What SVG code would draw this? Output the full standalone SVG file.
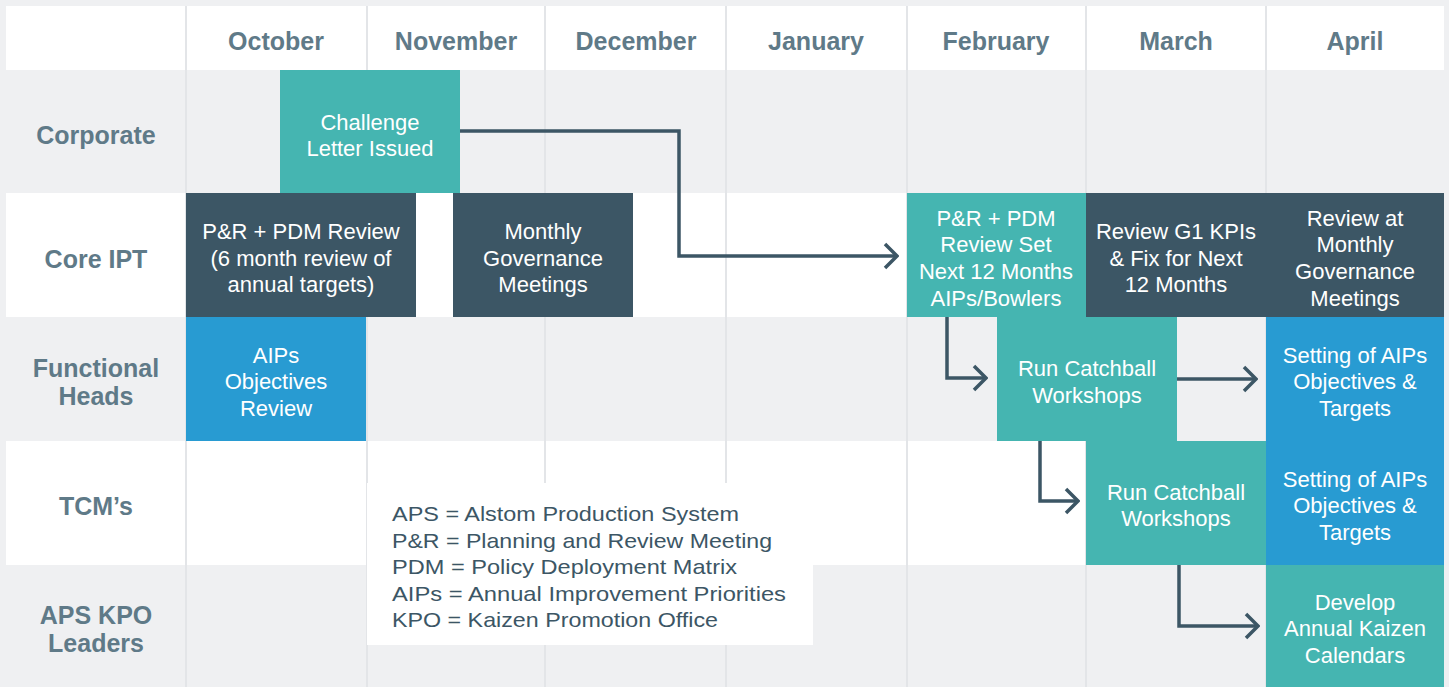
<svg xmlns="http://www.w3.org/2000/svg" width="1449" height="687" viewBox="0 0 1449 687">
<defs>
<style>
.bg{fill:#eff0f2}
.wh{fill:#ffffff}
.grid{stroke:#e3e5e8;stroke-width:2;fill:none}
.teal{fill:#45b5b1}
.dark{fill:#3c5665}
.blue{fill:#289bd2}
.bt{font-family:"Liberation Sans",Arial,sans-serif;font-size:22px;fill:#ffffff;text-anchor:middle}
.hd{font-family:"Liberation Sans",Arial,sans-serif;font-size:25px;font-weight:700;fill:#5f7a88;text-anchor:middle}
.lg{font-family:"Liberation Sans",Arial,sans-serif;font-size:21px;fill:#3c5665}
.con{fill:none;stroke:#3c5665;stroke-width:3.5}
</style>
<marker id="arr" viewBox="0 0 16 28" refX="14" refY="14" markerWidth="16" markerHeight="28" markerUnits="userSpaceOnUse" orient="auto">
<path d="M2,2 L14,14 L2,26" fill="none" stroke="#3c5665" stroke-width="3.5"/>
</marker>
</defs>

<g id="background">
<rect class="bg" x="0" y="0" width="1449" height="687"/>
<rect class="wh" x="6" y="6" width="1438" height="64"/>
<rect class="wh" x="6" y="193" width="1438" height="124"/>
<rect class="wh" x="6" y="441" width="1438" height="124"/>
<path class="grid" d="M186,6V687M367,6V687M545,6V687M726,6V687M907,6V687M1086,6V687M1266,6V687"/>
</g>

<g id="header">
<text class="hd" x="276" y="50">October</text>
<text class="hd" x="456" y="50">November</text>
<text class="hd" x="636" y="50">December</text>
<text class="hd" x="816" y="50">January</text>
<text class="hd" x="996" y="50">February</text>
<text class="hd" x="1176" y="50">March</text>
<text class="hd" x="1355" y="50">April</text>
</g>

<g id="row-labels">
<text class="hd" x="96" y="144">Corporate</text>
<text class="hd" x="96" y="268">Core IPT</text>
<text class="hd" x="96" y="377">Functional</text>
<text class="hd" x="96" y="405">Heads</text>
<text class="hd" x="96" y="515">TCM’s</text>
<text class="hd" x="96" y="624">APS KPO</text>
<text class="hd" x="96" y="652">Leaders</text>
</g>

<g id="legend">
<rect class="wh" x="367" y="483" width="446" height="162"/>
<text class="lg" x="392" y="521" textLength="347" lengthAdjust="spacingAndGlyphs">APS = Alstom Production System</text>
<text class="lg" x="392" y="548" textLength="380" lengthAdjust="spacingAndGlyphs">P&amp;R = Planning and Review Meeting</text>
<text class="lg" x="392" y="574" textLength="345" lengthAdjust="spacingAndGlyphs">PDM = Policy Deployment Matrix</text>
<text class="lg" x="392" y="601" textLength="394" lengthAdjust="spacingAndGlyphs">AIPs = Annual Improvement Priorities</text>
<text class="lg" x="392" y="627" textLength="326" lengthAdjust="spacingAndGlyphs">KPO = Kaizen Promotion Office</text>
</g>

<g id="challenge-letter">
<rect class="teal" x="280" y="70" width="180" height="123"/>
<text class="bt" x="370" y="130">Challenge</text>
<text class="bt" x="370" y="156">Letter Issued</text>
</g>

<g id="pr-pdm-review">
<rect class="dark" x="186" y="193" width="230" height="124"/>
<text class="bt" x="301" y="239">P&amp;R + PDM Review</text>
<text class="bt" x="301" y="266">(6 month review of</text>
<text class="bt" x="301" y="292">annual targets)</text>
</g>

<g id="monthly-governance">
<rect class="dark" x="453" y="193" width="180" height="124"/>
<text class="bt" x="543" y="239">Monthly</text>
<text class="bt" x="543" y="266">Governance</text>
<text class="bt" x="543" y="292">Meetings</text>
</g>

<g id="pr-pdm-set">
<rect class="teal" x="907" y="193" width="179" height="124"/>
<text class="bt" x="996" y="226">P&amp;R + PDM</text>
<text class="bt" x="996" y="252">Review Set</text>
<text class="bt" x="996" y="279">Next 12 Months</text>
<text class="bt" x="996" y="306">AIPs/Bowlers</text>
</g>

<g id="review-g1">
<rect class="dark" x="1086" y="193" width="180" height="124"/>
<text class="bt" x="1176" y="239">Review G1 KPIs</text>
<text class="bt" x="1176" y="266">&amp; Fix for Next</text>
<text class="bt" x="1176" y="292">12 Months</text>
</g>

<g id="review-monthly">
<rect class="dark" x="1266" y="193" width="178" height="124"/>
<text class="bt" x="1355" y="226">Review at</text>
<text class="bt" x="1355" y="252">Monthly</text>
<text class="bt" x="1355" y="279">Governance</text>
<text class="bt" x="1355" y="306">Meetings</text>
</g>

<g id="aips-review">
<rect class="blue" x="186" y="317" width="180" height="124"/>
<text class="bt" x="276" y="363">AIPs</text>
<text class="bt" x="276" y="389">Objectives</text>
<text class="bt" x="276" y="416">Review</text>
</g>

<g id="catchball-fh">
<rect class="teal" x="997" y="317" width="180" height="124"/>
<text class="bt" x="1087" y="376">Run Catchball</text>
<text class="bt" x="1087" y="403">Workshops</text>
</g>

<g id="setting-fh">
<rect class="blue" x="1266" y="317" width="178" height="124"/>
<text class="bt" x="1355" y="363">Setting of AIPs</text>
<text class="bt" x="1355" y="389">Objectives &amp;</text>
<text class="bt" x="1355" y="416">Targets</text>
</g>

<g id="catchball-tcm">
<rect class="teal" x="1086" y="441" width="180" height="124"/>
<text class="bt" x="1176" y="500">Run Catchball</text>
<text class="bt" x="1176" y="526">Workshops</text>
</g>

<g id="setting-tcm">
<rect class="blue" x="1266" y="441" width="178" height="124"/>
<text class="bt" x="1355" y="487">Setting of AIPs</text>
<text class="bt" x="1355" y="513">Objectives &amp;</text>
<text class="bt" x="1355" y="540">Targets</text>
</g>

<g id="kaizen-calendars">
<rect class="teal" x="1266" y="565" width="178" height="122"/>
<text class="bt" x="1355" y="610">Develop</text>
<text class="bt" x="1355" y="636">Annual Kaizen</text>
<text class="bt" x="1355" y="663">Calendars</text>
</g>

<g id="connectors">
<path class="con" d="M460,131H679V256H897" marker-end="url(#arr)"/>
<path class="con" d="M947,317V378H986" marker-end="url(#arr)"/>
<path class="con" d="M1177,379H1256" marker-end="url(#arr)"/>
<path class="con" d="M1040,441V501H1078" marker-end="url(#arr)"/>
<path class="con" d="M1179,565V626H1258" marker-end="url(#arr)"/>
</g>
</svg>
